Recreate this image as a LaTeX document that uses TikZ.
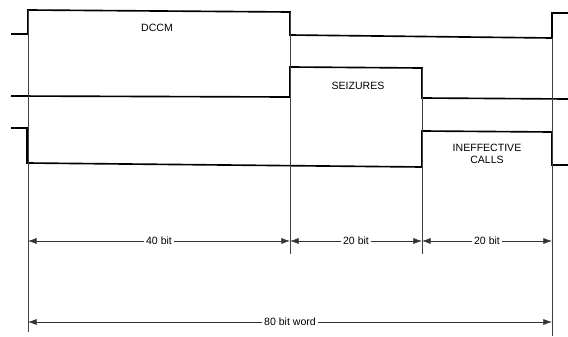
\documentclass[tikz,border=0pt]{standalone}
\usepackage{fontspec}
\setmainfont{Liberation Sans}
\usepackage{tikz}
\usetikzlibrary{arrows.meta}

\begin{document}
\begin{tikzpicture}[
  x=0.03cm,y=-0.03cm,
  font=\fontsize{9}{10.5}\selectfont,
  wave/.style={draw=black,line width=1.4pt,line join=miter},
  guide/.style={draw=black!75,line width=0.5pt},
  dimln/.style={{Latex[length=2.6mm,width=1.8mm]}-{Latex[length=2.6mm,width=1.8mm]},
                draw=black!80,line width=0.5pt},
  lab/.style={align=center,inner sep=1pt},
  tag/.style={fill=white,inner sep=2pt}]
\useasboundingbox (0,0) rectangle (568,336);

% ---- the three signal lines ----------------------------------------------
\draw[wave] (11,34) -- (28,34) -- (28,10) -- (290,12) -- (290,35)
  -- (552,38) -- (552,13) -- (568,13);
\draw[wave] (11,96) -- (290,97) -- (290,67) -- (422,68) -- (422,98)
  -- (568,99);
\draw[wave] (11,128) -- (27,128) -- (27,163) -- (422,167) -- (422,131)
  -- (552,132) -- (552,165) -- (568,165);

\node[lab] (dccm) at (157,28) {DCCM};
\node[lab] (seiz) at (358,86) {SEIZURES};
\node[lab] (inef) at (487,154) {INEFFECTIVE\\CALLS};

% ---- slot boundaries -----------------------------------------------------
\coordinate (t0) at (28,241);
\coordinate (t1) at (290,241);
\coordinate (t2) at (422,241);
\coordinate (t3) at (552,241);
\coordinate (w0) at (28,322);
\coordinate (w1) at (552,322);
\draw[guide] (28,10) -- (28,332);
\draw[guide] (290,12) -- (290,254);
\draw[guide] (422,68) -- (422,254);
\draw[guide] (552,38) -- (552,336);

% ---- widths of the slots -------------------------------------------------
\draw[dimln] (t0) -- node[tag] (n40) {40 bit} (t1);
\draw[dimln] (t1) -- node[tag] (n20a) {20 bit} (t2);
\draw[dimln] (t2) -- node[tag] (n20b) {20 bit} (t3);
\draw[dimln] (w0) -- node[tag] (n80) {80 bit word} (w1);
\end{tikzpicture}
\end{document}
